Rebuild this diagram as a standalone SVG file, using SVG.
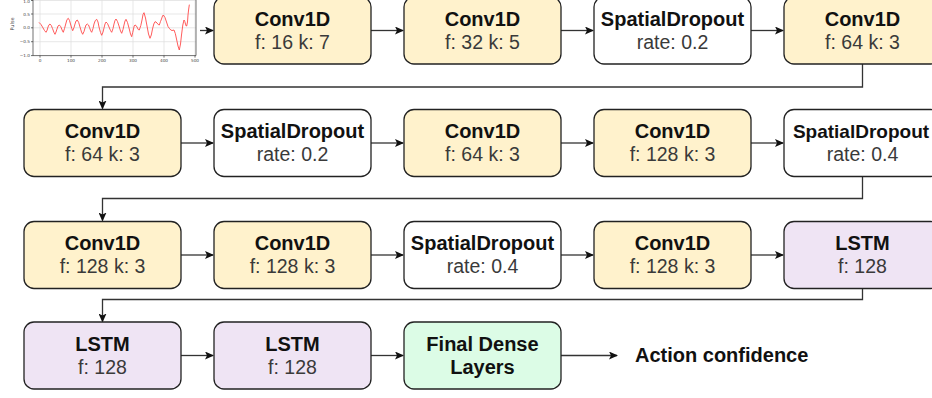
<svg xmlns="http://www.w3.org/2000/svg" width="932" height="398" viewBox="0 0 932 398">
<defs>
<marker id="arr" markerWidth="9" markerHeight="8" refX="8" refY="4" orient="auto" markerUnits="userSpaceOnUse">
<path d="M0,0 L9,4 L0,8 L2,4 z" fill="#111"/>
</marker>
<style>
.box{stroke:#222;stroke-width:1.3}
.conv{fill:#fff2cc}
.drop{fill:#ffffff}
.lstm{fill:#efe4f4}
.dense{fill:#dcfce6}
.t{font-family:"Liberation Sans",Arial,sans-serif;font-size:20px;font-weight:bold;fill:#111;text-anchor:middle}
.s{font-family:"Liberation Sans",Arial,sans-serif;font-size:19.5px;fill:#3a3a3a;text-anchor:middle}
.c{fill:none;stroke:#333;stroke-width:1.3}
.grid{stroke:#dcdcdc;stroke-width:0.7}
.ax{stroke:#333;stroke-width:0.7;fill:none}
.tk{font-family:"DejaVu Sans",sans-serif;font-size:4.2px;fill:#444}
</style>
</defs>
<g id="chart">
<g class="grid">
<line x1="40" y1="0" x2="40" y2="55.6"/><line x1="71" y1="0" x2="71" y2="55.6"/><line x1="102" y1="0" x2="102" y2="55.6"/><line x1="133" y1="0" x2="133" y2="55.6"/><line x1="164" y1="0" x2="164" y2="55.6"/><line x1="195" y1="0" x2="195" y2="55.6"/>
<line x1="33" y1="0.5" x2="196" y2="0.5"/><line x1="33" y1="14" x2="196" y2="14"/><line x1="33" y1="27.8" x2="196" y2="27.8"/><line x1="33" y1="41.7" x2="196" y2="41.7"/>
</g>
<path class="ax" d="M33,-2 V55.6 H196 V-2"/>
<g class="ax">
<line x1="31" y1="0.5" x2="33" y2="0.5"/><line x1="31" y1="14" x2="33" y2="14"/><line x1="31" y1="27.8" x2="33" y2="27.8"/><line x1="31" y1="41.7" x2="33" y2="41.7"/><line x1="31" y1="55.6" x2="33" y2="55.6"/>
<line x1="40" y1="55.6" x2="40" y2="57.6"/><line x1="71" y1="55.6" x2="71" y2="57.6"/><line x1="102" y1="55.6" x2="102" y2="57.6"/><line x1="133" y1="55.6" x2="133" y2="57.6"/><line x1="164" y1="55.6" x2="164" y2="57.6"/><line x1="195" y1="55.6" x2="195" y2="57.6"/>
</g>
<g class="tk" text-anchor="end">
<text x="30" y="3.4">1.0</text><text x="30" y="15.5">0.5</text><text x="30" y="29.3">0.0</text><text x="30" y="43.2">−0.5</text><text x="30" y="57.1">−1.0</text>
</g>
<g class="tk" text-anchor="middle">
<text x="40" y="62">0</text><text x="71" y="62">100</text><text x="102" y="62">200</text><text x="133" y="62">300</text><text x="164" y="62">400</text><text x="195" y="62">500</text>
</g>
<text class="tk" style="font-size:5px" text-anchor="middle" transform="translate(14,24) rotate(-90)">Pulse</text>
<polyline fill="none" stroke="#ff4a4a" stroke-width="0.9" stroke-linejoin="round" stroke-linecap="round" points="39.3,22.7 41,24.5 42.5,27 44.5,30.5 46,32.3 47.2,30 48,27 49,24.8 50,24 51.3,25.5 52.5,28.5 54,32.5 55,34.3 56,32 57,29 58,26 59.3,25 60.5,26.3 61.3,28 62.5,31 63.3,32.3 64.5,28.5 66,23 67,19.5 68.3,18.3 69.5,20.5 70.5,24 71.8,28.5 72.7,30.7 74,27.5 75,24 76,21 77.3,20 78.7,22.5 80,27 81.5,32 82.7,34.3 84,31.5 85,28 86,25 87.3,24 88.5,25 89.5,27.5 90.7,30.8 91.7,32.3 93,28.5 94,24 95.3,20.5 96.7,19.3 98,22 99,27 100.5,32.5 101.7,35.3 103,32 104,28 105,24 106,22 107.5,23.5 109,27 110.5,30.5 111.7,32.3 113,28.5 114,24 115,20.5 116,19 117.5,21.5 119,26 120.5,31 121.7,33.3 123,29.5 124,25 125,21 126,19.3 127.5,22.5 129,28 130.5,34 131.7,36.7 132.7,32.5 133.5,29 134.2,26 135,25 136,25.5 137,27 138.2,29.5 139.3,30 140.8,25.5 142,20 143,14.5 144,12.7 145.5,18 147,26 148.5,34 150,38.3 151.3,35 152.5,29 153.8,24 155,21.7 156,22 157,23 158.2,24.5 159.3,25 160.5,21.5 161.5,19 162.5,16 163.3,15 165,17.5 166.5,22 168,26.5 169.3,28.3 170.8,30 172,30.5 173,30.3 174,30 175.3,33.5 176.5,39 178,46 179.3,50 180.5,44 181.5,35 182.8,25 184,20 184.8,21.5 185.5,24 186.2,26 186.7,26 187.5,22 188,15 188.7,9 189.3,5"/>
</g>
<g id="connectors">
<line class="c" x1="200" y1="30.5" x2="213" y2="30.5" marker-end="url(#arr)"/>
<line class="c" x1="371" y1="30.5" x2="403" y2="30.5" marker-end="url(#arr)"/>
<line class="c" x1="561" y1="30.5" x2="593" y2="30.5" marker-end="url(#arr)"/>
<line class="c" x1="751" y1="30.5" x2="783" y2="30.5" marker-end="url(#arr)"/>
<path class="c" d="M862.5,64 V87 H102.5 V108.5" marker-end="url(#arr)"/>
<line class="c" x1="181" y1="143" x2="213" y2="143" marker-end="url(#arr)"/>
<line class="c" x1="371" y1="143" x2="403" y2="143" marker-end="url(#arr)"/>
<line class="c" x1="561" y1="143" x2="593" y2="143" marker-end="url(#arr)"/>
<line class="c" x1="751" y1="143" x2="783" y2="143" marker-end="url(#arr)"/>
<path class="c" d="M862.5,176.5 V198.5 H102.5 V220.5" marker-end="url(#arr)"/>
<line class="c" x1="181" y1="255" x2="213" y2="255" marker-end="url(#arr)"/>
<line class="c" x1="371" y1="255" x2="403" y2="255" marker-end="url(#arr)"/>
<line class="c" x1="561" y1="255" x2="593" y2="255" marker-end="url(#arr)"/>
<line class="c" x1="751" y1="255" x2="783" y2="255" marker-end="url(#arr)"/>
<path class="c" d="M862.5,288.5 V299.5 H102.5 V321.5" marker-end="url(#arr)"/>
<line class="c" x1="181" y1="355.5" x2="213" y2="355.5" marker-end="url(#arr)"/>
<line class="c" x1="371" y1="355.5" x2="403" y2="355.5" marker-end="url(#arr)"/>
<line class="c" x1="561" y1="355.5" x2="617" y2="355.5" marker-end="url(#arr)"/>
</g>
<g id="r1n1"><rect class="box conv" x="214" y="-3" width="157" height="67" rx="10"/><text class="t" x="292.5" y="25.5">Conv1D</text><text class="s" x="292.5" y="48.5">f: 16 k: 7</text></g>
<g id="r1n2"><rect class="box conv" x="404" y="-3" width="157" height="67" rx="10"/><text class="t" x="482.5" y="25.5">Conv1D</text><text class="s" x="482.5" y="48.5">f: 32 k: 5</text></g>
<g id="r1n3"><rect class="box drop" x="594" y="-3" width="157" height="67" rx="10"/><text class="t" x="672.5" y="25.5">SpatialDropout</text><text class="s" x="672.5" y="48.5">rate: 0.2</text></g>
<g id="r1n4"><rect class="box conv" x="784" y="-3" width="157" height="67" rx="10"/><text class="t" x="862.5" y="25.5">Conv1D</text><text class="s" x="862.5" y="48.5">f: 64 k: 3</text></g>
<g id="r2n1"><rect class="box conv" x="24" y="109.5" width="157" height="67" rx="10"/><text class="t" x="102.5" y="138">Conv1D</text><text class="s" x="102.5" y="161">f: 64 k: 3</text></g>
<g id="r2n2"><rect class="box drop" x="214" y="109.5" width="157" height="67" rx="10"/><text class="t" x="292.5" y="138">SpatialDropout</text><text class="s" x="292.5" y="161">rate: 0.2</text></g>
<g id="r2n3"><rect class="box conv" x="404" y="109.5" width="157" height="67" rx="10"/><text class="t" x="482.5" y="138">Conv1D</text><text class="s" x="482.5" y="161">f: 64 k: 3</text></g>
<g id="r2n4"><rect class="box conv" x="594" y="109.5" width="157" height="67" rx="10"/><text class="t" x="672.5" y="138">Conv1D</text><text class="s" x="672.5" y="161">f: 128 k: 3</text></g>
<g id="r2n5"><rect class="box drop" x="784" y="109.5" width="157" height="67" rx="10"/><text class="t" x="861" y="138" style="font-size:19px">SpatialDropout</text><text class="s" x="862.5" y="161">rate: 0.4</text></g>
<g id="r3n1"><rect class="box conv" x="24" y="221.5" width="157" height="67" rx="10"/><text class="t" x="102.5" y="250">Conv1D</text><text class="s" x="102.5" y="273">f: 128 k: 3</text></g>
<g id="r3n2"><rect class="box conv" x="214" y="221.5" width="157" height="67" rx="10"/><text class="t" x="292.5" y="250">Conv1D</text><text class="s" x="292.5" y="273">f: 128 k: 3</text></g>
<g id="r3n3"><rect class="box drop" x="404" y="221.5" width="157" height="67" rx="10"/><text class="t" x="482.5" y="250">SpatialDropout</text><text class="s" x="482.5" y="273">rate: 0.4</text></g>
<g id="r3n4"><rect class="box conv" x="594" y="221.5" width="157" height="67" rx="10"/><text class="t" x="672.5" y="250">Conv1D</text><text class="s" x="672.5" y="273">f: 128 k: 3</text></g>
<g id="r3n5"><rect class="box lstm" x="784" y="221.5" width="157" height="67" rx="10"/><text class="t" x="862.5" y="250">LSTM</text><text class="s" x="862.5" y="273">f: 128</text></g>
<g id="r4n1"><rect class="box lstm" x="24" y="322" width="157" height="67" rx="10"/><text class="t" x="102.5" y="350.5">LSTM</text><text class="s" x="102.5" y="373.5">f: 128</text></g>
<g id="r4n2"><rect class="box lstm" x="214" y="322" width="157" height="67" rx="10"/><text class="t" x="292.5" y="350.5">LSTM</text><text class="s" x="292.5" y="373.5">f: 128</text></g>
<g id="r4n3"><rect class="box dense" x="404" y="322" width="157" height="67" rx="10"/><text class="t" x="482.5" y="350.5">Final Dense</text><text class="t" x="482.5" y="373.5">Layers</text></g>
<g id="output"><text class="t" x="635" y="362" style="text-anchor:start">Action confidence</text></g>
</svg>
